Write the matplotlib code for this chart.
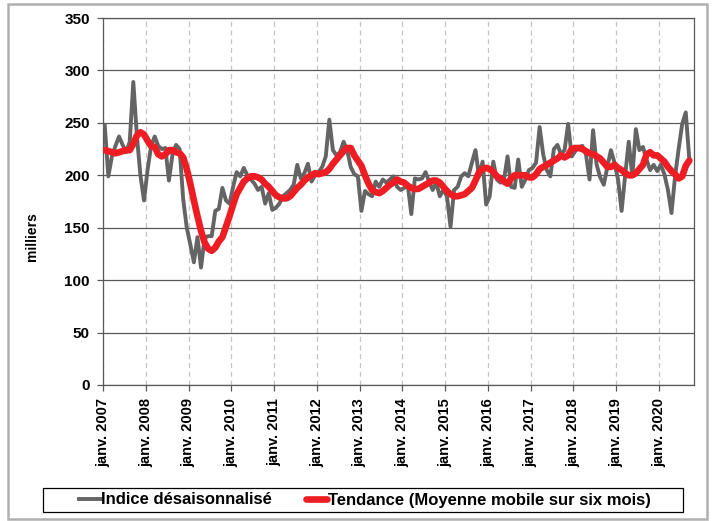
import numpy as np
import matplotlib
matplotlib.use('Agg')
import matplotlib.pyplot as plt
from matplotlib.patches import Rectangle

plt.rcParams['font.family'] = ['Liberation Sans', 'DejaVu Sans']
plt.rcParams['font.weight'] = 'bold'

# Indice désaisonnalisé (milliers), mensuel, janv. 2007 -> sept. 2020
indice = [
    247, 199, 218, 228, 237, 229, 222, 232, 289, 238, 200, 176,  # 2007
    205, 228, 237, 228, 225, 226, 195, 220, 229, 225, 177, 150,  # 2008
    134, 117, 141, 112, 140, 142, 142, 166, 168, 188, 176, 173,  # 2009
    189, 203, 199, 207, 200, 196, 192, 186, 189, 173, 183, 167,  # 2010
    169, 173, 180, 183, 186, 191, 210, 197, 202, 211, 194, 200,  # 2011
    203, 208, 218, 253, 224, 219, 222, 232, 224, 208, 201, 199,  # 2012
    166, 185, 182, 180, 194, 189, 196, 193, 196, 199, 189, 186,  # 2013
    188, 191, 163, 197, 196, 197, 203, 194, 186, 193, 180, 186,  # 2014
    180, 151, 186, 189, 199, 202, 199, 212, 224, 199, 213, 172,  # 2015
    180, 213, 196, 193, 196, 218, 189, 188, 215, 189, 196, 205,  # 2016
    207, 212, 246, 220, 205, 199, 225, 229, 220, 224, 249, 218,  # 2017
    223, 227, 228, 220, 196, 243, 210, 198, 191, 208, 224, 212,  # 2018
    196, 166, 200, 232, 199, 244, 224, 227, 215, 205, 210, 204,  # 2019
    210, 201, 186, 164, 199, 225, 249, 260, 215,                 # 2020
]

# Tendance (moyenne mobile sur six mois)
tendance = [
    224, 223, 222, 221, 222, 223, 224, 224, 230, 238, 241, 239,  # 2007
    233, 228, 227, 220, 218, 220, 224, 224, 222, 221, 217, 206,  # 2008
    192, 176, 161, 147, 136, 130, 128, 131, 137, 141, 151, 161,  # 2009
    172, 182, 188, 194, 197, 199, 199, 198, 196, 192, 189, 185,  # 2010
    181, 179, 178, 178, 180, 184, 188, 191, 195, 198, 200, 202,  # 2011
    201, 202, 203, 206, 211, 215, 219, 223, 226, 226, 219, 214,  # 2012
    209, 200, 192, 186, 184, 183, 185, 188, 191, 193, 196, 194,  # 2013
    193, 190, 188, 187, 187, 189, 191, 193, 195, 195, 193, 189,  # 2014
    185, 182, 180, 180, 181, 182, 185, 188, 195, 203, 206, 207,  # 2015
    206, 203, 199, 197, 194, 192, 197, 200, 200, 200, 200, 198,  # 2016
    198, 201, 206, 208, 210, 212, 214, 216, 219, 217, 219, 225,  # 2017
    226, 226, 225, 223, 221, 220, 218, 216, 212, 208, 208, 210,  # 2018
    207, 205, 202, 200, 200, 202, 206, 210, 220, 222, 219, 219,  # 2019
    216, 213, 208, 204, 201, 197, 199, 209, 214,                 # 2020
]

annees = list(range(2007, 2021))
labels_x = ['janv. %d' % a for a in annees]

W, H = 712, 521
fig = plt.figure(figsize=(W / 100, H / 100), dpi=100)
ax = fig.add_axes([103 / W, 1 - 385 / H, 590.6 / W, 367 / H])

# points au milieu de chaque mois
x = np.arange(len(indice)) + 0.5
l1, = ax.plot(x, indice, color='#646464', lw=2.8, solid_joinstyle='round',
              label='Indice désaisonnalisé', zorder=3)
l2, = ax.plot(x, tendance, color='#ee1d23', lw=4.8, solid_joinstyle='round',
              solid_capstyle='round', label='Tendance (Moyenne mobile sur six mois)', zorder=4)

ax.set_xlim(0, 165.7)
ax.set_ylim(0, 350)
ax.set_yticks(range(0, 351, 50))
ax.set_xticks([12 * i for i in range(len(annees))])
ax.set_xticklabels(labels_x, rotation=90, fontsize=10.5, fontweight='bold')
for t in ax.get_yticklabels():
    t.set_fontsize(11)
    t.set_fontweight('bold')

ax.grid(axis='y', color='#595959', lw=0.9, zorder=1)
ax.grid(axis='x', color='#c4c4c4', lw=0.9, ls=(0, (4, 3)), zorder=1)
ax.tick_params(axis='y', direction='out', length=4.5, width=0.9,
               color='#595959', pad=5)
ax.tick_params(axis='x', direction='out', length=4.5, width=0.9,
               color='#595959', pad=5)
for s in ax.spines.values():
    s.set_color('#595959')
    s.set_linewidth(0.9)

fig.text(32 / W, 1 - 237 / H, 'milliers', rotation=90, fontsize=10,
         fontweight='bold', ha='center', va='center')

# légende sous le graphique
leg = fig.legend(handles=[l1, l2], loc='center', bbox_to_anchor=(365 / W, 1 - 500 / H),
                 ncol=2, frameon=False, fontsize=12, handlelength=1.3,
                 handletextpad=0.05, columnspacing=2.0, borderpad=0)
for t in leg.get_texts():
    t.set_fontweight('bold')
fig.patches.append(Rectangle((43 / W, 1 - 512 / H), 640 / W, 24 / H,
                             transform=fig.transFigure, fill=False,
                             edgecolor='black', lw=0.9))

# cadre du graphique
fig.patches.append(Rectangle((8 / W, 1 - 519 / H), 699 / W, 515 / H,
                             transform=fig.transFigure, fill=False,
                             edgecolor='#b0b0b0', lw=1.8))

fig.savefig('out.png', dpi=100)
